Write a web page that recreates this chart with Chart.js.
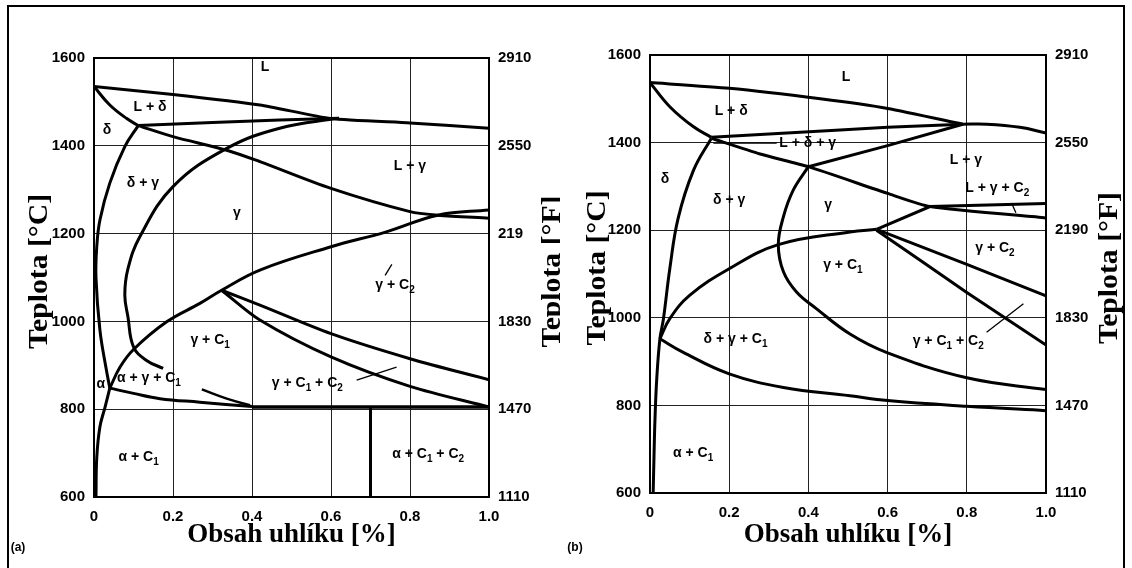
<!DOCTYPE html>
<html>
<head>
<meta charset="utf-8">
<script src="https://cdn.jsdelivr.net/npm/chart.js@4.4.1/dist/chart.umd.min.js"></script>
<style>
    html, body { margin: 0; padding: 0; background: #fff; }
    #wrap { position: relative; width: 1132px; height: 568px; overflow: hidden; background: #fff; }
    #frame { position: absolute; left: 7px; top: 5px; width: 1118px; height: 600px; border: 2px solid #000; box-sizing: border-box; }
    canvas { position: absolute; top: 0; }
    #chartA { left: 0; }
    #chartB { left: 560px; }
</style>
</head>
<body>
<div id="wrap">
    <div id="frame"></div>
    <canvas id="chartA" width="560" height="568"></canvas>
    <canvas id="chartB" width="572" height="568"></canvas>
</div>
<script>
// axis ticks
const carbonTicks = [0, 0.2, 0.4, 0.6, 0.8, 1.0];
const carbonLabels = ['0', '0.2', '0.4', '0.6', '0.8', '1.0'];
const tempTicks = [600, 800, 1000, 1200, 1400, 1600];
const fahrLabelsA = ['1110', '1470', '1830', '219', '2550', '2910'];
const fahrLabelsB = ['1110', '1470', '1830', '2190', '2550', '2910'];

// panel (a) boundaries  [carbon %, temperature C]
const aLiquidus = [[0, 1535], [0.2, 1517], [0.42, 1493], [0.6, 1462], [0.8, 1452], [1.0, 1440]];
const aDeltaLiq = [[0, 1535], [0.04, 1493], [0.083, 1462], [0.112, 1446]];
const aPeritectic = [[0.112, 1446], [0.3, 1453], [0.47, 1459], [0.62, 1463]];
const aGammaLoop = [[0.175, 893], [0.133, 911], [0.1, 942], [0.086, 1010], [0.078, 1060], [0.086, 1120], [0.116, 1193], [0.2, 1307], [0.336, 1394], [0.47, 1440], [0.62, 1463]];
const aDeltaSide = [[0.112, 1446], [0.078, 1398], [0.04, 1315], [0.015, 1231], [0.007, 1170], [0.005, 1100], [0.015, 980], [0.03, 896], [0.04, 848]];
const aAlpha = [[0.005, 600], [0.007, 690], [0.015, 760], [0.028, 805], [0.04, 848]];
const aGammaC1 = [[0.04, 848], [0.066, 896], [0.1, 936], [0.184, 999], [0.268, 1041], [0.323, 1071], [0.42, 1117], [0.6, 1170], [0.74, 1204], [0.87, 1242], [1.0, 1254]];
const aSolidus = [[0.112, 1446], [0.2, 1421], [0.336, 1390], [0.42, 1364], [0.6, 1303], [0.8, 1250], [0.87, 1242], [1.0, 1235]];
const aC2Upper = [[0.323, 1071], [0.42, 1037], [0.6, 972], [0.8, 915], [1.0, 867]];
const aC2Lower = [[0.323, 1071], [0.42, 1003], [0.6, 919], [0.8, 852], [1.0, 805]];
const aEutectoid = [[0.04, 848], [0.1, 836], [0.167, 824], [0.268, 816], [0.4, 806]];
const aEutectoid2 = [[0.273, 845], [0.336, 824], [0.395, 809]];
const aIsotherm = [[0.4, 805], [1.0, 805]];
const aVertical = [[0.7, 805], [0.7, 600]];
const aLeaders = [[[0.665, 866], [0.766, 896]], [[0.737, 1105], [0.754, 1130]]];

// panel (b) boundaries
const bLiquidus = [[0, 1537], [0.2, 1524], [0.43, 1500], [0.6, 1478], [0.79, 1442]];
const bGammaLiq = [[0.79, 1442], [0.85, 1442], [0.934, 1435], [1.0, 1422]];
const bDeltaLiq = [[0, 1537], [0.05, 1482], [0.11, 1436], [0.155, 1412]];
const bTieUpper = [[0.155, 1412], [0.48, 1429], [0.6, 1435], [0.79, 1442]];
const bTieLower = [[0.4, 1345], [0.6, 1393], [0.79, 1442]];
const bSolidus = [[0.155, 1410], [0.278, 1374], [0.4, 1345], [0.6, 1284], [0.707, 1254], [1.0, 1228]];
const bDeltaSide = [[0.155, 1410], [0.11, 1337], [0.071, 1227], [0.05, 1112], [0.034, 998], [0.025, 952], [0.017, 860], [0.0126, 769], [0.01, 680], [0.008, 600]];
const bGammaLoop = [[0.4, 1345], [0.362, 1292], [0.337, 1231], [0.324, 1167], [0.337, 1105], [0.37, 1059], [0.42, 1021], [0.505, 963], [0.6, 920], [0.8, 863], [1.0, 836]];
const bGammaC1 = [[0.025, 952], [0.05, 998], [0.1, 1051], [0.2, 1112], [0.324, 1167], [0.505, 1196], [0.572, 1202]];
const bGammaC2 = [[0.572, 1202], [0.707, 1254], [1.0, 1261]];
const bC2Upper = [[0.572, 1202], [0.8, 1122], [1.0, 1050]];
const bC2Lower = [[0.572, 1200], [0.8, 1058], [1.0, 938]];
const bEutectoid = [[0.025, 952], [0.084, 921], [0.2, 872], [0.337, 841], [0.505, 822], [0.6, 811], [0.8, 798], [1.0, 788]];
const bLeaders = [[[0.16, 1399], [0.32, 1399]], [[0.913, 1262], [0.924, 1240]], [[0.85, 967], [0.943, 1032]]];

// phase field names  [text, carbon %, temperature C]
const aLabels = [
    ['L', 0.433, 1579], ['L + δ', 0.142, 1488], ['δ', 0.033, 1436], ['δ + γ', 0.124, 1315],
    ['γ', 0.362, 1247], ['L + γ', 0.8, 1354], ['γ + C_2', 0.762, 1082], ['γ + C_1', 0.294, 957],
    ['α + γ + C_1', 0.139, 870], ['α', 0.017, 858], ['γ + C_1 + C_2', 0.54, 859],
    ['α + C_1', 0.113, 691], ['α + C_1 + C_2', 0.846, 698]
];
const bLabels = [
    ['L', 0.495, 1550], ['L + δ', 0.205, 1472], ['δ', 0.038, 1316], ['L + δ + γ', 0.398, 1398],
    ['δ + γ', 0.2, 1269], ['γ', 0.45, 1258], ['L + γ', 0.798, 1360], ['L + γ + C_2', 0.877, 1296],
    ['γ + C_2', 0.871, 1159], ['γ + C_1', 0.487, 1120], ['γ + C_1 + C_2', 0.753, 946],
    ['δ + γ + C_1', 0.216, 952], ['α + C_1', 0.109, 691]
];

var labelFont = 'bold 14px "Liberation Sans", Arial, sans-serif';
var subFont = 'bold 10px "Liberation Sans", Arial, sans-serif';

function drawLabel(ctx, text, x, y) {
    // "_1" means subscript 1
    var parts = text.split('_');
    var pieces = [{t: parts[0], sub: false}];
    for (var i = 1; i < parts.length; i++) {
        pieces.push({t: parts[i].charAt(0), sub: true});
        if (parts[i].length > 1) pieces.push({t: parts[i].slice(1), sub: false});
    }
    var total = 0;
    pieces.forEach(function (p) {
        ctx.font = p.sub ? subFont : labelFont;
        p.w = ctx.measureText(p.t).width;
        total += p.w;
    });
    var cx = x - total / 2;
    ctx.textAlign = 'left';
    ctx.textBaseline = 'middle';
    pieces.forEach(function (p) {
        ctx.font = p.sub ? subFont : labelFont;
        ctx.fillText(p.t, cx, p.sub ? y + 5 : y);
        cx += p.w;
    });
}

// vertical axis title, a little stretched along its length like the scan
function vText(ctx, text, x, y) {
    ctx.save();
    ctx.translate(x, y);
    ctx.rotate(-Math.PI / 2);
    ctx.scale(1.1, 1);
    ctx.fillText(text, 0, 0);
    ctx.restore();
}

const overlay = {
    id: 'overlay',
    afterDatasetsDraw: function (chart, args, opts) {
        var ctx = chart.ctx, a = chart.chartArea;
        var xs = chart.scales.x, ys = chart.scales.y;
        ctx.save();
        ctx.strokeStyle = '#000';
        ctx.lineWidth = 2;
        ctx.strokeRect(a.left, a.top, a.right - a.left, a.bottom - a.top);

        ctx.fillStyle = '#000';
        opts.labels.forEach(function (l) {
            drawLabel(ctx, l[0], xs.getPixelForValue(l[1]), ys.getPixelForValue(l[2]));
        });

        // axis titles
        ctx.font = 'bold 27px "Liberation Serif", "Times New Roman", serif';
        ctx.textAlign = 'center';
        ctx.textBaseline = 'middle';
        var cy = (a.top + a.bottom) / 2 - 6;
        vText(ctx, 'Teplota [°C]', a.left - opts.leftGap, cy);
        vText(ctx, 'Teplota [°F]', a.right + 64, cy);
        ctx.fillText('Obsah uhlíku [%]', (a.left + a.right) / 2, a.bottom + opts.bottomGap);

        ctx.font = 'bold 12px "Liberation Sans", Arial, sans-serif';
        ctx.fillText(opts.tag, opts.tagX, 548);
        ctx.restore();
    }
};

function line(points, width, tension) {
    return {
        data: points.map(function (p) { return {x: p[0], y: p[1]}; }),
        showLine: true,
        borderColor: '#000',
        backgroundColor: '#000',
        borderWidth: width,
        pointRadius: 0,
        tension: tension,
        fill: false,
        yAxisID: 'y'
    };
}

function makeChart(id, datasets, labels, fahr, box) {
    var tickFont = {family: '"Liberation Sans", Arial, sans-serif', size: 15, weight: 'bold'};
    return new Chart(document.getElementById(id).getContext('2d'), {
        type: 'scatter',
        data: {datasets: datasets},
        plugins: [overlay],
        options: {
            responsive: false,
            animation: false,
            layout: {padding: {top: box.top, left: 0, right: 0, bottom: 0}},
            plugins: {
                legend: {display: false},
                tooltip: {enabled: false},
                overlay: {labels: labels, tag: box.tag, tagX: box.tagX, leftGap: box.leftGap, bottomGap: box.bottomGap}
            },
            scales: {
                x: {
                    type: 'linear', min: 0, max: 1,
                    afterBuildTicks: function (s) { s.ticks = carbonTicks.map(function (v) { return {value: v}; }); },
                    afterFit: function (s) { s.height = box.bottom; },
                    grid: {color: '#222', lineWidth: 1, drawTicks: false},
                    border: {display: false},
                    ticks: {padding: 11, color: '#000', font: tickFont, autoSkip: false, maxRotation: 0,
                        callback: function (v, i) { return carbonLabels[i]; }}
                },
                y: {
                    type: 'linear', position: 'left', min: 600, max: 1600,
                    afterBuildTicks: function (s) { s.ticks = tempTicks.map(function (v) { return {value: v}; }); },
                    afterFit: function (s) { s.width = box.left; },
                    grid: {color: '#222', lineWidth: 1, drawTicks: false},
                    border: {display: false},
                    ticks: {padding: 9, color: '#000', font: tickFont, autoSkip: false,
                        callback: function (v) { return String(v); }}
                },
                y2: {
                    type: 'linear', position: 'right', min: 600, max: 1600,
                    afterBuildTicks: function (s) { s.ticks = tempTicks.map(function (v) { return {value: v}; }); },
                    afterFit: function (s) { s.width = box.right; },
                    grid: {display: false, drawTicks: false},
                    border: {display: false},
                    ticks: {padding: 9, color: '#000', font: tickFont, autoSkip: false,
                        callback: function (v, i) { return fahr[i]; }}
                }
            }
        }
    });
}

var dsA = [
    line(aLiquidus, 3, 0.2), line(aDeltaLiq, 3, 0.4), line(aPeritectic, 3, 0),
    line(aGammaLoop, 3, 0.4), line(aDeltaSide, 3, 0.4), line(aAlpha, 3, 0.4),
    line(aGammaC1, 3, 0.4), line(aSolidus, 3, 0.3), line(aC2Upper, 3, 0.3),
    line(aC2Lower, 3, 0.3), line(aEutectoid, 3, 0.4), line(aEutectoid2, 2.5, 0.4),
    line(aIsotherm, 3.5, 0), line(aVertical, 3, 0)
];
aLeaders.forEach(function (l) { dsA.push(line(l, 1.3, 0)); });

var dsB = [
    line(bLiquidus, 3, 0.2), line(bGammaLiq, 3, 0.4), line(bDeltaLiq, 3, 0.4),
    line(bTieUpper, 3, 0), line(bTieLower, 3, 0), line(bSolidus, 3, 0.2),
    line(bDeltaSide, 3, 0.4), line(bGammaLoop, 3, 0.4), line(bGammaC1, 3, 0.4),
    line(bGammaC2, 3, 0), line(bC2Upper, 3, 0.2), line(bC2Lower, 3, 0.2),
    line(bEutectoid, 3, 0.4)
];
bLeaders.forEach(function (l) { dsB.push(line(l, 1.3, 0)); });

makeChart('chartA', dsA, aLabels, fahrLabelsA,
    {top: 58, left: 94, right: 71, bottom: 71, tag: '(a)', tagX: 18, leftGap: 54, bottomGap: 38});
makeChart('chartB', dsB, bLabels, fahrLabelsB,
    {top: 55, left: 90, right: 86, bottom: 75, tag: '(b)', tagX: 15, leftGap: 52, bottomGap: 42});
</script>
</body>
</html>
